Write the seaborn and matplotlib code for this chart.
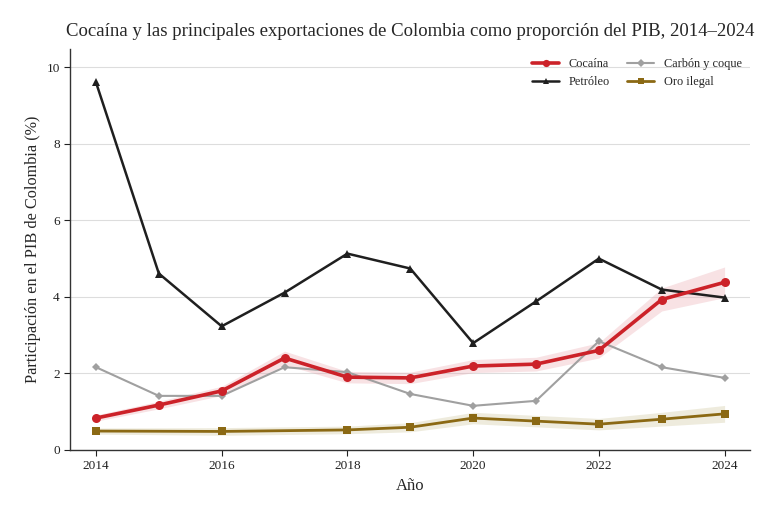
import numpy as np
import pandas as pd
import seaborn as sns
import matplotlib.pyplot as plt

years = [2014, 2015, 2016, 2017, 2018, 2019, 2020, 2021, 2022, 2023, 2024]
cocaina = [0.83, 1.17, 1.54, 2.40, 1.90, 1.88, 2.19, 2.24, 2.60, 3.93, 4.38]
cocaina_err = [0.08, 0.10, 0.12, 0.18, 0.15, 0.15, 0.17, 0.18, 0.20, 0.30, 0.40]
petroleo = [9.61, 4.61, 3.23, 4.11, 5.13, 4.74, 2.79, 3.88, 5.00, 4.19, 3.98]
carbon = [2.16, 1.41, 1.41, 2.16, 2.03, 1.46, 1.15, 1.28, 2.84, 2.16, 1.88]
oro_years = [2014, 2016, 2018, 2019, 2020, 2021, 2022, 2023, 2024]
oro = [0.49, 0.48, 0.52, 0.59, 0.83, 0.75, 0.67, 0.80, 0.94]
oro_err = [0.08, 0.10, 0.10, 0.12, 0.15, 0.15, 0.15, 0.18, 0.22]

sns.set_style("white")
plt.rcParams['font.family'] = ['Liberation Serif', 'DejaVu Serif']

fig = plt.figure(figsize=(7.8, 5.2), dpi=100)
ax = fig.add_axes([0.09, 0.135, 0.872, 0.77])

# bandas de incertidumbre
ax.fill_between(years, np.array(cocaina) - np.array(cocaina_err),
                np.array(cocaina) + np.array(cocaina_err),
                color='#e8a0a8', alpha=0.3, lw=0, zorder=1)
ax.fill_between(oro_years, np.array(oro) - np.array(oro_err),
                np.array(oro) + np.array(oro_err),
                color='#c8c090', alpha=0.3, lw=0, zorder=1)

sns.lineplot(x=years, y=cocaina, ax=ax, color='#cc2229', lw=2.6, marker='o',
             markersize=6.5, markeredgewidth=0, label='Cocaína', zorder=5)
sns.lineplot(x=years, y=petroleo, ax=ax, color='#1f1f1f', lw=1.8, marker='^',
             markersize=6, markeredgewidth=0, label='Petróleo', zorder=4)
sns.lineplot(x=years, y=carbon, ax=ax, color='#a0a0a0', lw=1.5, marker='D',
             markersize=4.5, markeredgewidth=0, label='Carbón y coque', zorder=3)
sns.lineplot(x=oro_years, y=oro, ax=ax, color='#8b6914', lw=2.0, marker='s',
             markersize=6, markeredgewidth=0, label='Oro ilegal', zorder=3)

ax.set_xlim(2013.59, 2024.41)
ax.set_ylim(0, 10.47)
ax.set_xticks([2014, 2016, 2018, 2020, 2022, 2024])
ax.set_yticks([0, 2, 4, 6, 8, 10])
ax.yaxis.grid(True, color='#dddddd', lw=0.8)
ax.set_axisbelow(True)
sns.despine(ax=ax)
for s in ['left', 'bottom']:
    ax.spines[s].set_color('#333333')
    ax.spines[s].set_linewidth(1.0)
ax.tick_params(axis='both', which='both', direction='out', length=4, width=0.8,
               colors='#222222', labelsize=9.5, left=True, bottom=True)

ax.set_xlabel('Año', fontsize=12)
ax.set_ylabel('Participación en el PIB de Colombia (%)', fontsize=11.7)
ax.set_title('Cocaína y las principales exportaciones de Colombia como proporción del PIB, 2014–2024',
             fontsize=13.5, pad=10)

ax.legend(loc='upper right', ncol=2, frameon=False, fontsize=8.8, handlelength=2.2,
          columnspacing=1.4, borderaxespad=0.3, markerscale=0.8)

fig.savefig('out.png', dpi=100)
